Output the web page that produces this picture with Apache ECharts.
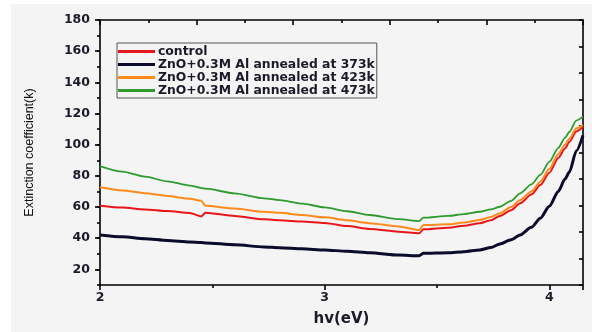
<!DOCTYPE html>
<html>
<head>
<meta charset="utf-8">
<script src="https://cdn.jsdelivr.net/npm/echarts@6/dist/echarts.min.js"></script>
<style>
  html, body { margin: 0; padding: 0; background: #ffffff; }
  #chart { width: 592px; height: 332px; }
</style>
</head>
<body>
<div id="chart"></div>
<script>
// Photon energy hv (eV), shared by all four spectra
const energy = [2.00, 2.10, 2.20, 2.30, 2.40, 2.45, 2.47, 2.60, 2.73, 2.80, 2.90, 3.00, 3.10, 3.20, 3.33, 3.42, 3.44, 3.55, 3.62, 3.69, 3.74, 3.78, 3.83, 3.87, 3.92, 3.96, 4.00, 4.04, 4.07, 4.09, 4.12, 4.15];

// Extinction coefficient k for each sample
const control = [60.9, 59.7, 58.5, 57.4, 56.2, 54.0, 56.4, 54.3, 52.1, 51.5, 50.7, 49.8, 47.8, 45.9, 44.2, 43.2, 45.7, 46.8, 48.0, 49.6, 51.6, 54.3, 58.0, 62.4, 68.0, 74.1, 82.0, 91.5, 97.5, 101.9, 108.5, 111.5];
const annealed373 = [42.1, 40.9, 39.7, 38.6, 37.6, 37.2, 37.0, 35.8, 34.4, 33.9, 33.2, 32.5, 31.6, 30.7, 29.2, 28.8, 30.3, 30.7, 31.4, 32.5, 34.0, 36.3, 39.0, 42.1, 47.0, 52.8, 60.5, 70.0, 78.0, 82.7, 96.0, 106.0];
const annealed423 = [72.7, 70.7, 68.9, 67.1, 65.3, 64.0, 60.8, 59.0, 57.0, 56.3, 54.9, 53.4, 51.5, 49.6, 47.6, 45.3, 48.5, 48.9, 50.1, 51.7, 53.6, 56.0, 60.0, 64.5, 70.0, 76.3, 84.5, 94.0, 100.0, 104.0, 110.5, 112.6];
const annealed473 = [86.3, 82.7, 79.5, 76.5, 73.8, 72.3, 71.8, 68.8, 65.6, 64.5, 62.2, 59.8, 57.3, 54.9, 52.2, 51.0, 53.2, 54.3, 55.5, 57.0, 58.5, 60.2, 64.0, 68.8, 74.5, 80.6, 89.0, 98.0, 104.5, 108.3, 115.5, 118.0];

const seriesNames = ['control', 'ZnO+0.3M Al annealed at 373k', 'ZnO+0.3M Al annealed at 423k', 'ZnO+0.3M Al annealed at 473k'];
const seriesValues = [control, annealed373, annealed423, annealed473];
const seriesColors = ['#e8161b', '#0b0b2b', '#ff8a1c', '#2e9b2e'];
const seriesWidths = [2, 3, 2, 1.8];

const yLabels = [20, 40, 60, 80, 100, 120, 140, 160, 180];

const chart = echarts.init(document.getElementById('chart'), null, { renderer: 'canvas' });

const axisText = { fontFamily: 'DejaVu Sans', fontWeight: 'bold', fontSize: 12.5, color: '#1a1a2a' };
const black = { color: '#000000', width: 1.6 };

chart.setOption({
  backgroundColor: '#ffffff',
  animation: false,
  graphic: [{
    type: 'rect', z: -10, silent: true,
    shape: { x: 11, y: 4, width: 581, height: 328 },
    style: { fill: '#f4f4f4' }
  }],
  grid: { left: 100, right: 9, top: 20, bottom: 47, containLabel: false },
  legend: {
    left: 117, top: 43, orient: 'vertical',
    padding: [2, 2, 1, 1],
    icon: 'rect',
    itemWidth: 37, itemHeight: 3, itemGap: 0,
    borderColor: '#555555', borderWidth: 1,
    textStyle: { fontFamily: 'DejaVu Sans', fontWeight: 'bold', fontSize: 12.4, lineHeight: 13, color: '#1a1a2a', padding: [0, 0, 0, -2] },
    data: seriesNames
  },
  xAxis: [{
    type: 'value', position: 'bottom', min: 2, max: 4.15, interval: 1,
    axisLine: { lineStyle: black },
    axisTick: { length: 5, lineStyle: black },
    minorTick: { show: true, splitNumber: 2, length: 3, lineStyle: black },
    splitLine: { show: false },
    axisLabel: Object.assign({ margin: 6, showMaxLabel: false }, axisText),
    name: 'hv(eV)', nameLocation: 'middle', nameGap: 27,
    nameTextStyle: { fontFamily: 'DejaVu Sans', fontWeight: 'bold', fontSize: 15, color: '#1a1a2a' }
  }, {
    type: 'value', position: 'top', min: 0, max: 10, interval: 2,
    axisLine: { show: true, lineStyle: black },
    axisTick: { inside: true, length: 5, lineStyle: black },
    minorTick: { show: true, splitNumber: 2, length: 3, lineStyle: black },
    splitLine: { show: false },
    axisLabel: { show: false }
  }],
  yAxis: [{
    type: 'value', position: 'left', min: 10, max: 180, interval: 10,
    axisLine: { show: true, lineStyle: black },
    axisTick: { length: 5, customValues: yLabels, lineStyle: black },
    splitLine: { show: false },
    axisLabel: Object.assign({ margin: 10, customValues: yLabels }, axisText),
    name: 'Extinction coefficient(k)', nameLocation: 'middle', nameGap: 64,
    nameTextStyle: { fontFamily: 'Liberation Sans', fontSize: 12.5, color: '#111111' }
  }, {
    // short ticks at every 10
    type: 'value', position: 'left', min: 10, max: 180, interval: 10,
    axisLine: { show: false },
    axisTick: { length: 3, lineStyle: black },
    splitLine: { show: false },
    axisLabel: { show: false }
  }, {
    type: 'value', position: 'right', min: 0, max: 10, interval: 1,
    axisLine: { show: true, lineStyle: black },
    axisTick: { inside: true, length: 4, lineStyle: black },
    splitLine: { show: false },
    axisLabel: { show: false }
  }],
  series: seriesNames.map((name, i) => ({
    name: name,
    type: 'line',
    xAxisIndex: 0,
    yAxisIndex: 0,
    symbol: 'none',
    smooth: 0.25,
    smoothMonotone: 'x',
    color: seriesColors[i],
    lineStyle: { width: seriesWidths[i], color: seriesColors[i] },
    data: energy.map((e, j) => [e, seriesValues[i][j]])
  }))
});
</script>
</body>
</html>
